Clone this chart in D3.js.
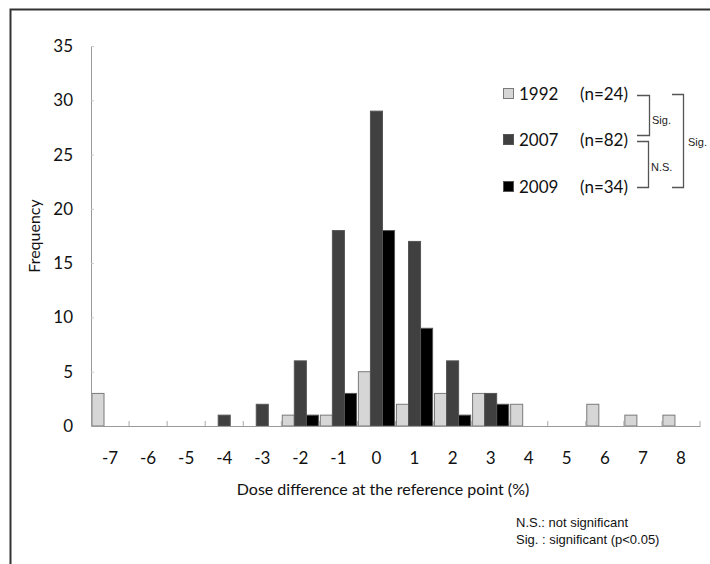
<!DOCTYPE html>
<html>
<head>
<meta charset="utf-8">
<script src="https://cdn.jsdelivr.net/npm/d3@7"></script>
<style>
  body { margin: 0; background: #fff; }
  svg { display: block; }
</style>
</head>
<body>
<div id="chart"></div>
<script>
// データ
var categories = [-7, -6, -5, -4, -3, -2, -1, 0, 1, 2, 3, 4, 5, 6, 7, 8];
var seriesNames = ["1992", "2007", "2009"];
var seriesN = ["(n=24)", "(n=82)", "(n=34)"];
var values1992 = [3, 0, 0, 0, 0, 1, 1, 5, 2, 3, 3, 2, 0, 2, 1, 1];
var values2007 = [0, 0, 0, 1, 2, 6, 18, 29, 17, 6, 3, 0, 0, 0, 0, 0];
var values2009 = [0, 0, 0, 0, 0, 1, 3, 18, 9, 1, 2, 0, 0, 0, 0, 0];
var yTicks = [0, 5, 10, 15, 20, 25, 30, 35];

var width = 710, height = 564;
var margin = { left: 91, right: 10, top: 46, bottom: 138 };
var fill = { "1992": "#d6d6d6", "2007": "#404040", "2009": "#000000" };
var font = "Lato, 'Open Sans', sans-serif";

var svg = d3.select("#chart").append("svg")
    .attr("width", width)
    .attr("height", height);

// 枠線
svg.append("path")
    .attr("d", "M10.5,564 V9.5 H710")
    .attr("fill", "none")
    .attr("stroke", "#333")
    .attr("stroke-width", 2);

var x = d3.scaleBand()
    .domain(categories)
    .range([margin.left, width - margin.right])
    .paddingInner(0)
    .paddingOuter(0);

var xSub = d3.scaleBand()
    .domain(seriesNames)
    .range([0, x.bandwidth()])
    .paddingInner(0)
    .paddingOuter(0.08);

var y = d3.scaleLinear()
    .domain([0, 35])
    .range([height - margin.bottom, margin.top]);

var rows = categories.map(function(c, i) {
    return { cat: c, "1992": values1992[i], "2007": values2007[i], "2009": values2009[i] };
});

// 棒グラフ
var groups = svg.selectAll(".grp")
    .data(rows)
    .enter()
    .append("g")
    .attr("class", "grp")
    .attr("transform", function(d) { return "translate(" + x(d.cat) + ",0)"; });

groups.selectAll("rect")
    .data(function(d) {
        return seriesNames.map(function(s) { return { s: s, v: d[s] }; }).filter(function(e) { return e.v > 0; });
    })
    .enter()
    .append("rect")
    .attr("x", function(d) { return xSub(d.s); })
    .attr("width", xSub.bandwidth())
    .attr("y", function(d) { return y(d.v); })
    .attr("height", function(d) { return y(0) - y(d.v); })
    .attr("fill", function(d) { return fill[d.s]; })
    .attr("stroke", function(d) { return d.s === "1992" ? "#7a7a7a" : "#555"; })
    .attr("stroke-width", 1);

// Y軸
var yAxis = svg.append("g")
    .attr("transform", "translate(" + margin.left + ",0)")
    .call(d3.axisLeft(y).tickValues(yTicks).tickSize(-3).tickPadding(18));
yAxis.select(".domain").attr("stroke", "#9a9a9a");
yAxis.selectAll(".tick line").attr("stroke", "#c8c8c8");
yAxis.selectAll("text")
    .attr("font-family", font)
    .attr("font-size", 17)
    .attr("fill", "#111");

// X軸
var xAxis = svg.append("g")
    .attr("transform", "translate(0," + y(0) + ")")
    .call(d3.axisBottom(x).tickSize(0).tickPadding(26).tickSizeOuter(0));
xAxis.select(".domain").attr("stroke", "#9a9a9a");
xAxis.selectAll("text")
    .attr("font-family", font)
    .attr("font-size", 17)
    .attr("fill", "#111");

// 区切りの目盛り
var bounds = categories.slice(1).map(function(c) { return x(c); }).concat([x.range()[1]]);
svg.append("g").selectAll("line")
    .data(bounds)
    .enter()
    .append("line")
    .attr("x1", function(d) { return d; })
    .attr("x2", function(d) { return d; })
    .attr("y1", y(0))
    .attr("y2", y(0) - 5)
    .attr("stroke", "#a8a8a8");

// 軸タイトル
svg.append("text")
    .attr("transform", "translate(40,236) rotate(-90)")
    .attr("text-anchor", "middle")
    .attr("font-family", font)
    .attr("font-size", 16)
    .attr("fill", "#111")
    .text("Frequency");

svg.append("text")
    .attr("x", 383)
    .attr("y", 495)
    .attr("text-anchor", "middle")
    .attr("font-family", font)
    .attr("font-size", 16)
    .attr("fill", "#111")
    .text("Dose difference at the reference point (%)");

// 凡例
var legendY = [94, 140, 187];
var legend = svg.selectAll(".legend")
    .data(seriesNames)
    .enter()
    .append("g")
    .attr("class", "legend")
    .attr("transform", function(d, i) { return "translate(503," + legendY[i] + ")"; });

legend.append("rect")
    .attr("x", 0.5)
    .attr("y", -5.5)
    .attr("width", 10)
    .attr("height", 10)
    .attr("fill", function(d) { return fill[d]; })
    .attr("stroke", function(d) { return d === "1992" ? "#7a7a7a" : "#555"; });

legend.append("text")
    .attr("x", 16)
    .attr("y", 6)
    .attr("font-family", font)
    .attr("font-size", 17)
    .attr("fill", "#111")
    .text(function(d) { return d; });

legend.append("text")
    .attr("x", 77)
    .attr("y", 6)
    .attr("font-family", font)
    .attr("font-size", 17)
    .attr("fill", "#111")
    .text(function(d, i) { return seriesN[i]; });

// 有意差の括弧
var br = svg.append("g")
    .attr("fill", "none")
    .attr("stroke", "#555")
    .attr("stroke-width", 1.3);
br.append("path").attr("d", "M637,95.5 H649.5 V135.5 H637");
br.append("path").attr("d", "M637,141.5 H648.5 V187.5 H637");
br.append("path").attr("d", "M672,94.5 H683.5 V187.5 H672");

var small = "'Liberation Sans', Arial, sans-serif";
svg.append("text").attr("x", 652).attr("y", 124)
    .attr("font-family", small).attr("font-size", 11).attr("fill", "#222").text("Sig.");
svg.append("text").attr("x", 651).attr("y", 171)
    .attr("font-family", small).attr("font-size", 11).attr("fill", "#222").text("N.S.");
svg.append("text").attr("x", 688).attr("y", 146)
    .attr("font-family", small).attr("font-size", 11).attr("fill", "#222").text("Sig.");

// 注記
svg.append("text").attr("x", 516).attr("y", 527)
    .attr("font-family", small).attr("font-size", 13).attr("fill", "#111").text("N.S.: not significant");
svg.append("text").attr("x", 516).attr("y", 544)
    .attr("font-family", small).attr("font-size", 13).attr("fill", "#111").text("Sig. : significant (p<0.05)");
</script>
</body>
</html>
